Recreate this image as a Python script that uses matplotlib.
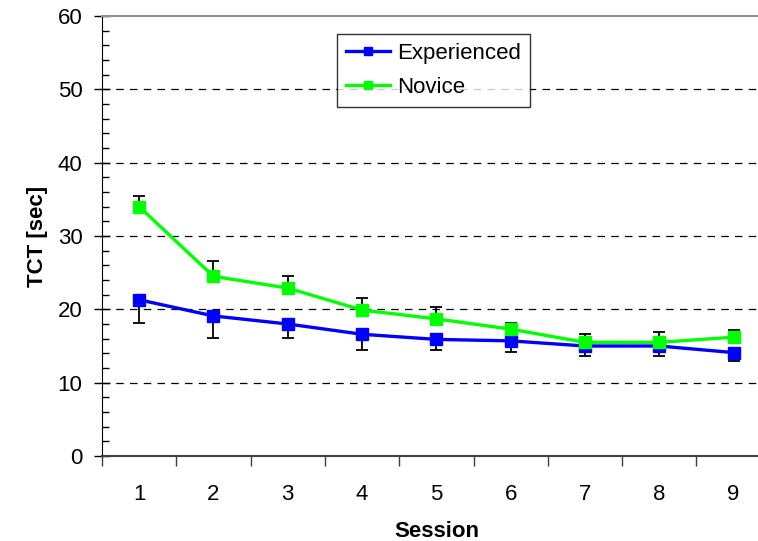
import matplotlib
matplotlib.use("Agg")
import matplotlib.pyplot as plt
from matplotlib.ticker import MultipleLocator

plt.rcParams['font.family'] = ['Liberation Sans', 'DejaVu Sans']

sessions = [1, 2, 3, 4, 5, 6, 7, 8, 9]
experienced = [21.3, 19.1, 18.0, 16.6, 15.9, 15.7, 15.0, 15.0, 14.1]
experienced_err_low = [3.1, 3.0, 1.9, 2.1, 1.4, 1.5, 1.4, 1.4, 1.1]
novice = [34.0, 24.5, 22.9, 19.9, 18.7, 17.3, 15.5, 15.5, 16.2]
novice_err_up = [1.5, 2.1, 1.6, 1.6, 1.6, 0.9, 1.1, 1.4, 1.0]

FS = 16

fig = plt.figure(figsize=(7.58, 5.41), dpi=100)
ax = fig.add_axes([102/758, 1-456/541, 668.7/758, 440/541])

zeros = [0]*len(sessions)
ax.errorbar(sessions, experienced, yerr=[experienced_err_low, zeros], fmt='none',
            ecolor='black', elinewidth=1.3, capsize=4, capthick=1.3, zorder=2)
ax.errorbar(sessions, novice, yerr=[zeros, novice_err_up], fmt='none',
            ecolor='black', elinewidth=1.3, capsize=4, capthick=1.3, zorder=2)
ax.plot(sessions, experienced, color='#0000FF', lw=2.4, marker='s', ms=8,
        label='Experienced', zorder=3)
ax.plot(sessions, novice, color='#00FF00', lw=2.4, marker='s', ms=8,
        label='Novice', zorder=3)

ax.set_xlim(0.5, 9.5)
ax.set_ylim(0, 60)
ax.set_xticks(sessions)
ax.set_xticks([s + 0.5 for s in [0] + sessions], minor=True)
ax.tick_params(axis='x', which='major', length=0, pad=20, labelsize=FS)
ax.tick_params(axis='x', which='minor', length=7, direction='out', width=1, color='#404040')
ax.yaxis.set_major_locator(MultipleLocator(10))
ax.yaxis.set_minor_locator(MultipleLocator(2))
ax.tick_params(axis='y', which='major', direction='inout', length=12, width=1, labelsize=FS, pad=8)
ax.tick_params(axis='y', which='minor', direction='in', length=5, width=1)

for v in [10, 20, 30, 40, 50]:
    ax.axhline(v, color='black', lw=0.9, ls=(0, (6, 5)), zorder=1)

ax.spines['right'].set_visible(False)
ax.spines['top'].set_color('#909090')
ax.spines['top'].set_linewidth(1.5)
ax.spines['left'].set_color('black')
ax.spines['bottom'].set_color('#404040')
ax.spines['bottom'].set_linewidth(1.5)

ax.set_xlabel('Session', fontsize=FS, fontweight='bold', labelpad=12)
ax.set_ylabel('TCT [sec]', fontsize=FS, fontweight='bold', labelpad=7)

leg = ax.legend(loc='upper left', bbox_to_anchor=((337-102)/668.7, (456-34)/440),
                fontsize=FS, frameon=True, fancybox=False, edgecolor='black',
                handlelength=2.0, handletextpad=0.3, borderpad=0.4, labelspacing=0.6,
                markerscale=0.75, borderaxespad=0)
leg.get_frame().set_linewidth(1.0)

fig.savefig('out.png', dpi=100)
